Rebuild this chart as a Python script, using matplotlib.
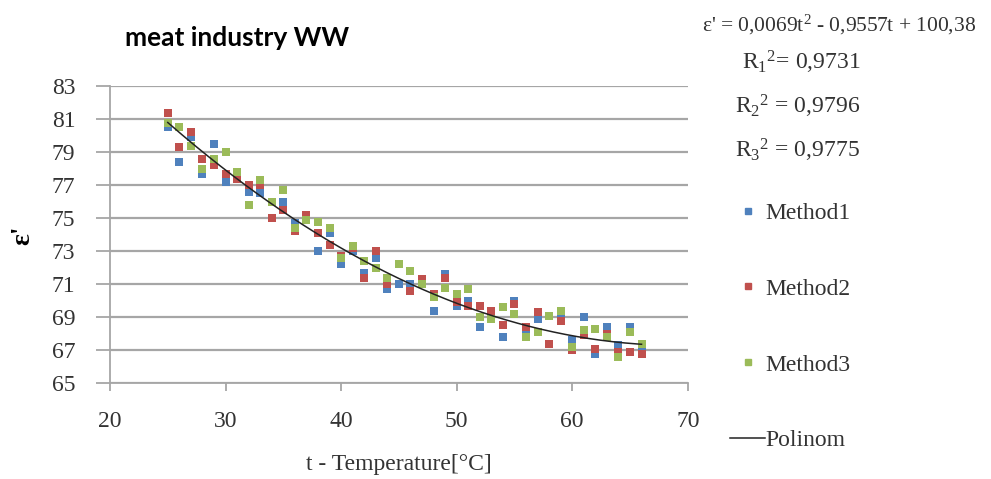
import numpy as np
import matplotlib
matplotlib.use("Agg")
import matplotlib.pyplot as plt
from matplotlib.lines import Line2D

plt.rcParams["font.family"] = ["Liberation Serif", "DejaVu Serif"]
plt.rcParams["mathtext.fontset"] = "custom"
plt.rcParams["mathtext.rm"] = "Liberation Serif"
plt.rcParams["mathtext.it"] = "Liberation Serif"

temp = list(range(25, 67))
method1 = [80.5, 78.4, 79.9, 77.7, 79.5, 77.2, 77.5, 76.6, 76.5, 75.0,
           76.0, 74.7, 75.0, 73.0, 74.1, 72.2, 73.0, 71.7, 72.6, 70.7,
           71.0, 71.0, 71.2, 69.4, 71.6, 69.7, 70.0, 68.4, 69.0, 67.8,
           70.0, 68.1, 68.9, 69.1, 69.0, 67.6, 69.0, 66.8, 68.4, 67.3,
           68.4, 67.0]
method2 = [81.4, 79.3, 80.2, 78.6, 78.2, 77.7, 77.4, 77.0, 77.0, 75.0,
           75.5, 74.2, 75.2, 74.1, 73.4, 72.7, 73.2, 71.4, 73.0, 71.0,
           72.2, 70.6, 71.3, 70.4, 71.4, 69.9, 69.7, 69.7, 69.4, 68.5,
           69.8, 68.4, 69.3, 67.4, 68.8, 67.0, 67.9, 67.1, 68.0, 66.9,
           66.9, 66.8]
method3 = [80.8, 80.5, 79.4, 78.0, 78.6, 79.0, 77.8, 75.8, 77.3, 76.0,
           76.7, 74.4, 74.9, 74.8, 74.4, 72.6, 73.3, 72.4, 72.0, 71.4,
           72.2, 71.8, 71.0, 70.2, 70.8, 70.4, 70.7, 69.0, 68.9, 69.6,
           69.2, 67.8, 68.1, 69.1, 69.4, 67.2, 68.2, 68.3, 67.8, 66.6,
           68.1, 67.4]
# trendline coefficients as printed on the chart
poly_coef = [0.0069, -0.9557, 100.38]
r2_values = ["0,9731", "0,9796", "0,9775"]

colors = ["#4F81BD", "#C0504D", "#9BBB59"]
labels = ["Method1", "Method2", "Method3"]

fig = plt.figure(figsize=(9.91, 4.79), dpi=100)
ax = fig.add_axes([0.111, 0.2, 0.583, 0.62])

for ys, c in zip([method1, method2, method3], colors):
    ax.scatter(temp, ys, marker="s", s=27, color=c, linewidths=0, zorder=3)

t_fit = np.linspace(temp[0], temp[-1], 200)
ax.plot(t_fit, np.polyval(poly_coef, t_fit), color="#222222", lw=1.1, zorder=4)

ax.set_xlim(20, 70)
ax.set_ylim(65, 83)
ax.set_xticks(range(20, 71, 10))
ax.set_yticks(range(65, 84, 2))
ax.yaxis.grid(True, color="#A6A6A6", lw=1.6)
ax.set_axisbelow(True)
for s in ["top", "right"]:
    ax.spines[s].set_visible(False)
ax.spines["left"].set_color("#A6A6A6")
ax.spines["bottom"].set_color("#A6A6A6")
ax.spines["left"].set_linewidth(1.3)
ax.spines["bottom"].set_linewidth(1.3)
ax.tick_params(axis="y", length=10, width=1.3, color="#A6A6A6", labelsize=17,
               labelcolor="#333333", pad=15)
ax.tick_params(axis="x", length=6, width=1.3, color="#A6A6A6", labelsize=17,
               labelcolor="#333333", pad=14)

ax.set_xlabel("t - Temperature[°C]", fontsize=17, color="#333333", labelpad=16)
ax.set_ylabel("ε'", fontsize=20, fontweight="bold", labelpad=12)

fig.text(0.126, 0.92, "meat industry WW", family="Lato", fontweight="bold",
         fontsize=19, va="center")
fig.text(0.985, 0.948, "ε' = 0,0069t$^2$ - 0,9557t + 100,38", fontsize=15.5,
         ha="right", va="center", color="#333333")
for i, r2 in enumerate(r2_values):
    sep = "= " if i == 0 else " = "
    fig.text(0.868, 0.87 - i * 0.0915, "R$_%d$$^2$%s%s" % (i + 1, sep, r2),
             fontsize=17, ha="right", va="center", color="#333333")

handles = [Line2D([], [], marker="s", ls="", color=c, markersize=5) for c in colors]
handles.append(Line2D([], [], color="#222222", lw=1.1))
fig.legend(handles, labels + ["Polinom"], loc="upper left",
           bbox_to_anchor=(0.715, 0.622), frameon=False, fontsize=17,
           labelspacing=2.3, handlelength=1.5, handletextpad=0.0,
           labelcolor="#333333")

fig.savefig("out.png", dpi=100)
